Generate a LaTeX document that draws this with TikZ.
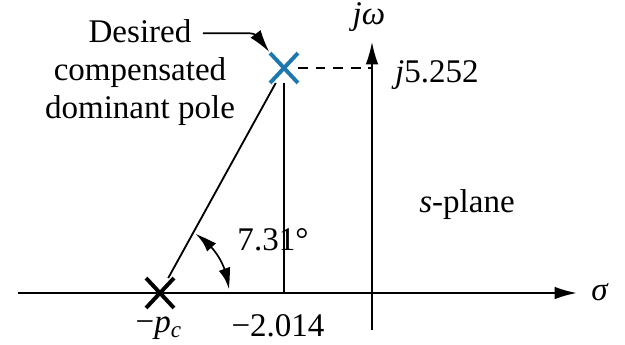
\documentclass[tikz,border=0pt]{standalone}
\usepackage{fontspec}
\setmainfont{Liberation Serif}
\usetikzlibrary{arrows.meta,bending,shapes.misc}
\definecolor{poleblue}{RGB}{30,120,175}
\begin{document}
\begin{tikzpicture}[
  font=\fontsize{23.5}{26.6}\selectfont,
  every node/.style={inner sep=0pt},
  tip/.style={-{Latex[length=16pt,width=9pt]}},
  bothtips/.style={{Latex[length=15pt,width=8.5pt,bend]}-{Latex[length=15pt,width=8.5pt,bend]}},
  pole/.style={cross out,draw,minimum width=0.6cm,minimum height=0.65cm,line width=2.8pt},
  axis/.style={line width=1.5pt}]
  \useasboundingbox (-9.3,-1.275) rectangle (6.325,7.325);
  \coordinate (o) at (0,0);
  \coordinate (left) at (-8.85,0);
  \coordinate (right) at (5.125,0);
  \coordinate (bottom) at (0,-0.925);
  \coordinate (top) at (0,6.275);
  \node[pole] (pc) at (-5.3,0) {};
  \node[pole,poleblue] (pd) at (-2.2,5.625) {};
  \draw[axis,tip] (left) -- (right);
  \draw[line width=1.1pt,tip] (bottom) -- (top);
  \node[anchor=base] (sig) at (5.7,-0.175) {\textit{σ}};
  \node[anchor=base] (jw) at (-0.075,6.7) {\textit{jω}};
  \node[anchor=base] (jval) at (1.625,5.275) {\textit{j}5.252};
  \node[anchor=base] (pclabel) at (-5.33,-0.975) {−\textit{p}\textsubscript{\textit{c}}};
  \node[anchor=base] (sigval) at (-2.35,-1.075) {−2.014};
  \node[anchor=base] (splane) at (2.375,2.025) {\textit{s}-plane};
  \node[anchor=base] (angle) at (-2.475,1.075) {7.31°};
  \node[anchor=base] (note1) at (-5.8,6.25) {Desired};
  \node[anchor=base] (note2) at (-5.8,5.31) {compensated};
  \node[anchor=base] (note3) at (-5.8,4.375) {dominant pole};
  \draw[line width=1.3pt] (pc) -- (pd);
  \draw[line width=1.1pt] (pd) -- (pd |- o);
  \draw[line width=1.4pt,dash pattern=on 7pt off 5.5pt] (pd) -- (pd -| o);
  \draw[line width=1.2pt,bothtips] ([shift={(59:1.72)}]pc.center)
    arc[start angle=59,end angle=3,radius=1.72];
  \coordinate (notestart) at ([xshift=8pt,yshift=7pt]note1.base east);
  \draw[line width=1.2pt,tip,shorten >=1pt] (notestart) -- ++(1.15,0)
    to[out=0,in=125] (pd.north west);
\end{tikzpicture}
\end{document}
